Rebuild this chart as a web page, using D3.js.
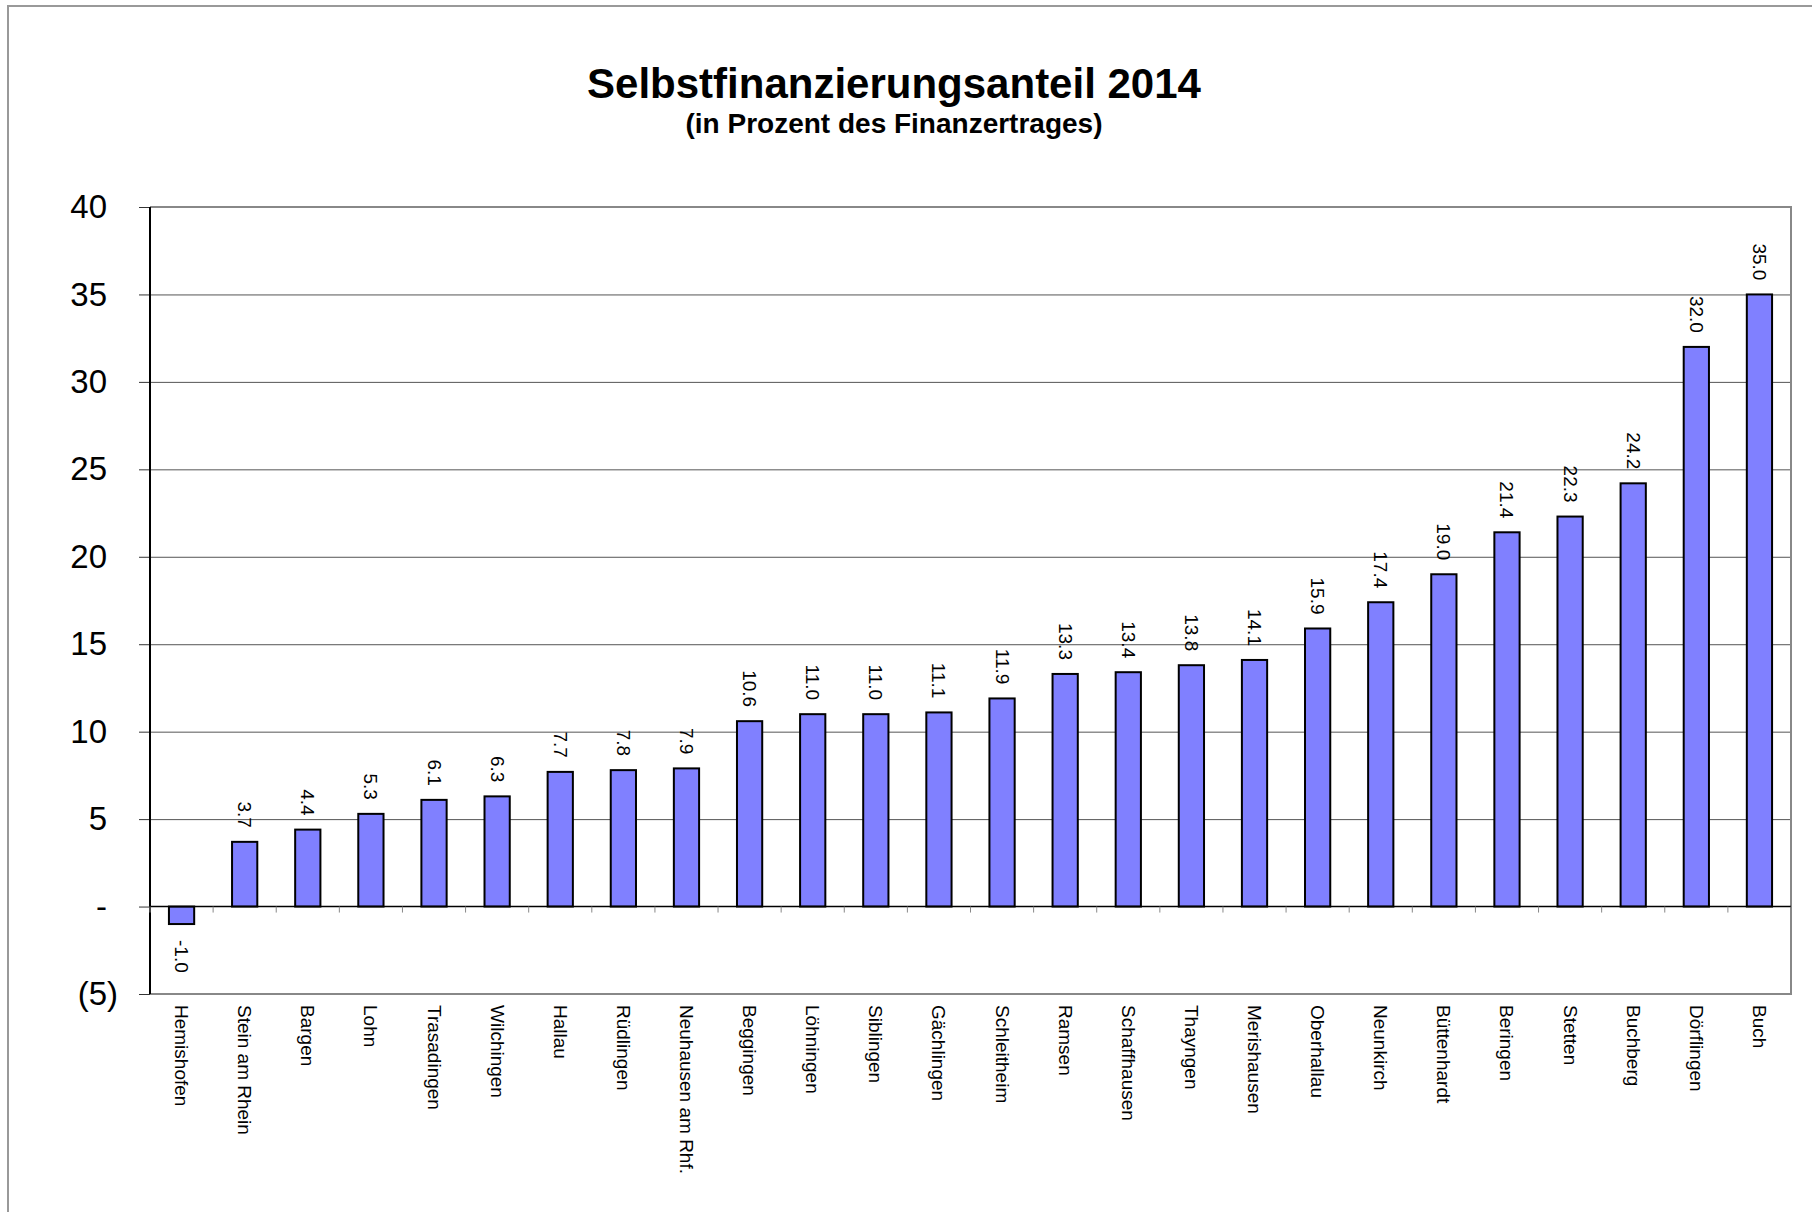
<!DOCTYPE html>
<meta charset="utf-8">
<style>
body { margin: 0; background: #fff; }
svg text { font-family: "Liberation Sans", Arial, sans-serif; fill: #000; }
.grid line { stroke: #555; stroke-width: 1; }
.grid .domain { display: none; }
.yaxis .domain { display: none; }
.yaxis line { stroke: #333; stroke-width: 1; }
.yaxis text { font-size: 33px; }
.bar { fill: #8080ff; stroke: #000; stroke-width: 2; }
.val { font-size: 19px; }
.cat { font-size: 19px; }
</style>
<body>
<svg width="1812" height="1212"></svg>
<script src="https://d3js.org/d3.v7.min.js"></script>
<script>

var categories = ["Hemishofen", "Stein am Rhein", "Bargen", "Lohn", "Trasadingen", "Wilchingen",
    "Hallau", "Rüdlingen", "Neuhausen am Rhf.", "Beggingen", "Löhningen", "Siblingen",
    "Gächlingen", "Schleitheim", "Ramsen", "Schaffhausen", "Thayngen", "Merishausen",
    "Oberhallau", "Neunkirch", "Büttenhardt", "Beringen", "Stetten", "Buchberg",
    "Dörflingen", "Buch"];
var values = [-1.0, 3.7, 4.4, 5.3, 6.1, 6.3, 7.7, 7.8, 7.9, 10.6, 11.0, 11.0,
    11.1, 11.9, 13.3, 13.4, 13.8, 14.1, 15.9, 17.4, 19.0, 21.4, 22.3, 24.2, 32.0, 35.0];
var yTicks = [-5, 0, 5, 10, 15, 20, 25, 30, 35, 40];
var gridTicks = [5, 10, 15, 20, 25, 30, 35];
var title = "Selbstfinanzierungsanteil 2014";
var subtitle = "(in Prozent des Finanzertrages)";

var svg = d3.select("svg");

// plot area edges
var pLeft = 150, pRight = 1791, pTop = 207, pBottom = 994;

var x = d3.scaleBand()
    .domain(categories)
    .range([pLeft, pRight])
    .paddingInner(0.6)
    .paddingOuter(0.3);

var y = d3.scaleLinear()
    .domain([-5, 40])
    .range([pBottom, pTop]);

// outer frame (runs off the page on right and bottom)
svg.append("rect")
    .attr("x", 8).attr("y", 6)
    .attr("width", 1900).attr("height", 1300)
    .attr("fill", "none")
    .attr("stroke", "#999")
    .attr("stroke-width", 2);

svg.append("text")
    .attr("x", 894).attr("y", 98)
    .attr("text-anchor", "middle")
    .attr("font-size", 42)
    .attr("font-weight", "bold")
    .text(title);

svg.append("text")
    .attr("x", 894).attr("y", 133)
    .attr("text-anchor", "middle")
    .attr("font-size", 28)
    .attr("font-weight", "bold")
    .text(subtitle);

// gridlines
svg.append("g")
    .attr("class", "grid")
    .attr("transform", "translate(" + pLeft + ",0)")
    .call(d3.axisLeft(y).tickValues(gridTicks).tickSize(-(pRight - pLeft)).tickFormat(""));

// plot border (top, right, bottom)
svg.append("path")
    .attr("d", "M" + pLeft + "," + pTop + "H" + pRight + "V" + pBottom + "H" + pLeft)
    .attr("fill", "none")
    .attr("stroke", "#888")
    .attr("stroke-width", 2);

// y axis
var yAxis = svg.append("g")
    .attr("class", "yaxis")
    .attr("transform", "translate(" + pLeft + ",0)")
    .call(d3.axisLeft(y)
        .tickValues(yTicks)
        .tickSize(11)
        .tickPadding(21)
        .tickFormat(function(d) {
            if (d === 0) return "-";
            if (d < 0) return "(" + Math.abs(d) + ")";
            return d;
        }));
yAxis.selectAll("text")
    .attr("dx", function(d) { return d < 0 ? 0 : "-0.333em"; });

svg.append("line")
    .attr("x1", pLeft).attr("x2", pLeft)
    .attr("y1", pTop).attr("y2", pBottom)
    .attr("stroke", "#000")
    .attr("stroke-width", 2);

// bars
svg.selectAll("rect.bar")
    .data(values)
    .enter().append("rect")
    .attr("class", "bar")
    .attr("x", function(d, i) { return x(categories[i]); })
    .attr("width", x.bandwidth())
    .attr("y", function(d) { return y(Math.max(0, d)); })
    .attr("height", function(d) { return Math.abs(y(d) - y(0)); });

// zero line
svg.append("line")
    .attr("x1", pLeft).attr("x2", pRight)
    .attr("y1", y(0)).attr("y2", y(0))
    .attr("stroke", "#000")
    .attr("stroke-width", 1.5);

// category tick marks at band edges
svg.selectAll("line.ctick")
    .data(d3.range(categories.length + 1))
    .enter().append("line")
    .attr("class", "ctick")
    .attr("x1", function(i) { return pLeft + i * x.step(); })
    .attr("x2", function(i) { return pLeft + i * x.step(); })
    .attr("y1", y(0))
    .attr("y2", y(0) + 6)
    .attr("stroke", "#888")
    .attr("stroke-width", 1);

// value labels
svg.selectAll("text.val")
    .data(values)
    .enter().append("text")
    .attr("class", "val")
    .attr("dominant-baseline", "central")
    .attr("text-anchor", function(d) { return d < 0 ? "start" : "end"; })
    .attr("transform", function(d, i) {
        var cx = x(categories[i]) + x.bandwidth() / 2;
        var cy = d < 0 ? y(d) + 16 : y(d) - 14;
        return "translate(" + cx + "," + cy + ") rotate(90)";
    })
    .text(function(d) { return d.toFixed(1); });

// category labels
svg.selectAll("text.cat")
    .data(categories)
    .enter().append("text")
    .attr("class", "cat")
    .attr("dominant-baseline", "central")
    .attr("text-anchor", "start")
    .attr("transform", function(d) {
        return "translate(" + (x(d) + x.bandwidth() / 2) + "," + (pBottom + 11) + ") rotate(90)";
    })
    .text(function(d) { return d; });

</script>
</body>
